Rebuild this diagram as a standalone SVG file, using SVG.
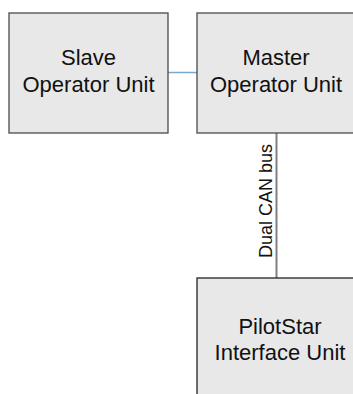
<svg xmlns="http://www.w3.org/2000/svg" width="353" height="394" viewBox="0 0 353 394">
<style>
.box{fill:#e8e8e8;stroke:#4a4a4a;stroke-width:1.3}
.lbl{font-family:"Liberation Sans",Arial,sans-serif;font-size:22px;fill:#111;text-anchor:middle}
.bus{font-family:"Liberation Sans",Arial,sans-serif;font-size:18px;fill:#111;text-anchor:middle}
</style>
<rect width="353" height="394" fill="#fff"/>
<g id="connectors">
<line x1="168" y1="72.5" x2="197" y2="72.5" stroke="#7ba7d6" stroke-width="1.5"/>
<line x1="276.5" y1="133" x2="276.5" y2="278" stroke="#7f7f7f" stroke-width="2"/>
<text class="bus" transform="translate(271.5,201) rotate(-90)">Dual CAN bus</text>
</g>
<g id="slave">
<rect class="box" x="9" y="13" width="159" height="120"/>
<text class="lbl" x="88.5" y="64.5">Slave</text>
<text class="lbl" x="88.5" y="91.5">Operator Unit</text>
</g>
<g id="master">
<rect class="box" x="197" y="13" width="159" height="120"/>
<text class="lbl" x="276" y="64.5">Master</text>
<text class="lbl" x="276" y="91.5">Operator Unit</text>
</g>
<g id="pilotstar">
<rect class="box" x="197" y="278" width="167" height="130" style="stroke:#222"/>
<text class="lbl" x="280" y="333.5">PilotStar</text>
<text class="lbl" x="280" y="359.5">Interface Unit</text>
</g>
</svg>
